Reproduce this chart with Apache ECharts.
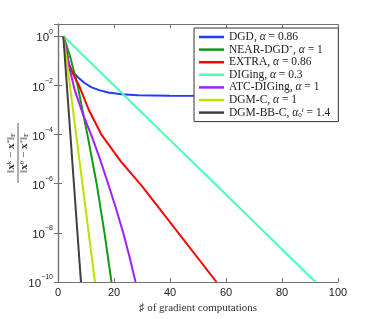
<!DOCTYPE html>
<html><head><meta charset="utf-8">
<script src="https://cdn.jsdelivr.net/npm/echarts@6/dist/echarts.min.js"></script>
<style>html,body{margin:0;padding:0;background:#fff}#c{width:374px;height:319px}</style>
</head><body><div id="c"></div>
<script>
// ---- data (x = # of gradient computations, y = relative error) ----
const xTicks = [0, 20, 40, 60, 80, 100];
const yTickExps = [0, -2, -4, -6, -8, -10];

const names = ['DGD', 'NEAR-DGD+', 'EXTRA', 'DIGing', 'ATC-DIGing', 'DGM-C', 'DGM-BB-C'];

const xDGD = [2, 3, 3.8, 5, 7.2, 9.5, 12, 15, 17.9, 22.7, 28.6, 40, 100];
const yDGD = [1, 0.251, 0.0794, 0.038, 0.0209, 0.01259, 0.00832, 0.00631, 0.00513, 0.00437, 0.00398, 0.0038, 0.00372];

const xNEAR = [2, 4.5, 7, 10.5, 13.8, 16.6, 19.1];
const yNEAR = [1, 0.126, 0.01, 1e-4, 1e-6, 1e-8, 1e-10];

const xEXTRA = [2, 3, 3.8, 5, 7.5, 11, 15.5, 22.5, 30, 56.6];
const yEXTRA = [1, 0.251, 0.0794, 0.0355, 0.01, 1e-3, 1e-4, 7.94e-6, 7.94e-7, 1e-10];

const xDIGing = [2, 92];
const yDIGing = [1, 1e-10];

const xATC = [2, 4, 6, 9, 12, 15, 17.9, 20.7, 23.3, 25.6, 27.7];
const yATC = [1, 0.0562, 6.31e-3, 6.31e-4, 8.91e-5, 1e-5, 1e-6, 1e-7, 1e-8, 1e-9, 1e-10];

const xDGMC = [2, 13.2];
const yDGMC = [1, 1e-10];

const xBB = [1.9, 8.2];
const yBB = [1, 1e-10];

const colors = ['#1f3cff', '#109c10', '#ff0000', '#4dffb4', '#a020ff', '#c2e000', '#404040'];

// ---- build ----
const pairs = (xs, ys) => xs.map((x, i) => [x, ys[i]]);
const allData = [pairs(xDGD, yDGD), pairs(xNEAR, yNEAR), pairs(xEXTRA, yEXTRA), pairs(xDIGing, yDIGing),
                 pairs(xATC, yATC), pairs(xDGMC, yDGMC), pairs(xBB, yBB)];

const legendText = {
  'DGD': '{t|DGD, }{i|α}{t| = 0.86}',
  'NEAR-DGD+': '{t|NEAR-DGD}{sup|+}{t|, }{i|α}{t| = 1}',
  'EXTRA': '{t|EXTRA, }{i|α}{t| = 0.86}',
  'DIGing': '{t|DIGing, }{i|α}{t| = 0.3}',
  'ATC-DIGing': '{t|ATC-DIGing, }{i|α}{t| = 1}',
  'DGM-C': '{t|DGM-C, }{i|α}{t| = 1}',
  'DGM-BB-C': '{t|DGM-BB-C, }{i|α}{sub|0}{supi|i}{t| = 1.4}'
};

const serif = '"Liberation Serif", "DejaVu Serif", serif';
const sans = '"Liberation Sans", Arial, sans-serif';
const axisGray = '#737373';

const chart = echarts.init(document.getElementById('c'), null, {renderer: 'canvas'});

const yLabelFmt = v => {
  const l = Math.log10(v);
  const e = Math.round(l);
  if (Math.abs(l - e) > 1e-6 || !yTickExps.includes(e)) return '';
  return '{b|10}{s|' + (e === 0 ? '0' : '−' + (-e)) + '}';
};

const fracRich = {
  n: {fontFamily: serif, fontSize: 11, fill: '#333', lineHeight: 11},
  b: {fontFamily: serif, fontSize: 11, fontWeight: 'bold', fill: '#333', lineHeight: 11},
  sup: {fontFamily: serif, fontSize: 7, verticalAlign: 'top', lineHeight: 11, fill: '#333'},
  sub: {fontFamily: serif, fontSize: 7, verticalAlign: 'bottom', lineHeight: 11, fill: '#333'}
};

chart.setOption({
  animation: false,
  backgroundColor: '#fff',
  color: colors,
  grid: {left: 58, right: 36, top: 24, bottom: 37, containLabel: false},
  xAxis: [{
    type: 'value', min: 0, max: 100, interval: 20, position: 'bottom',
    axisLine: {show: true, lineStyle: {color: axisGray, width: 1.2}},
    axisTick: {show: true, inside: true, length: 4, lineStyle: {color: axisGray}},
    axisLabel: {fontFamily: sans, fontSize: 11, color: '#222', margin: 5,
      formatter: v => xTicks.includes(v) ? String(v) : ''},
    splitLine: {show: false},
    name: '♯ of gradient computations', nameLocation: 'middle', nameGap: 20,
    nameTextStyle: {fontFamily: serif, fontSize: 11, color: '#333'}
  }, {
    type: 'value', min: 0, max: 100, interval: 20, position: 'top',
    axisLine: {show: true, lineStyle: {color: axisGray, width: 1.2}},
    axisTick: {show: true, inside: true, length: 4, lineStyle: {color: axisGray}},
    axisLabel: {show: false}, splitLine: {show: false}
  }],
  yAxis: [{
    type: 'log', logBase: 10, min: 1e-10, max: Math.pow(10, 0.5), interval: 2, position: 'left',
    axisLine: {show: true, lineStyle: {color: axisGray, width: 1.2}},
    axisTick: {show: true, inside: true, length: 4, lineStyle: {color: axisGray}},
    axisLabel: {formatter: yLabelFmt, margin: 5, showMaxLabel: false,
      rich: {
        b: {fontFamily: sans, fontSize: 11.5, color: '#222', lineHeight: 16, verticalAlign: 'bottom'},
        s: {fontFamily: sans, fontSize: 7, color: '#222', lineHeight: 16, verticalAlign: 'top'}
      }},
    splitLine: {show: false}
  }, {
    type: 'log', logBase: 10, min: 1e-10, max: Math.pow(10, 0.5), interval: 2, position: 'right',
    axisLine: {show: true, lineStyle: {color: axisGray, width: 1.2}},
    axisTick: {show: true, inside: true, length: 4, lineStyle: {color: axisGray}},
    axisLabel: {show: false}, splitLine: {show: false}
  }],
  legend: {
    orient: 'vertical', left: 194, top: 28,
    padding: [3, 8, 3, 5], itemGap: 0.6, itemWidth: 25, itemHeight: 2.5,
    borderColor: '#333', borderWidth: 1, backgroundColor: '#fff',
    icon: 'rect',
    data: names,
    formatter: n => legendText[n],
    textStyle: {
      rich: {
        t: {fontFamily: serif, fontSize: 11.5, color: '#222', lineHeight: 12},
        i: {fontFamily: serif, fontSize: 11.5, fontStyle: 'italic', color: '#222', lineHeight: 12},
        sup: {fontFamily: serif, fontSize: 7, color: '#222', lineHeight: 12, verticalAlign: 'top'},
        supi: {fontFamily: serif, fontSize: 7, fontStyle: 'italic', color: '#222', lineHeight: 12, verticalAlign: 'top'},
        sub: {fontFamily: serif, fontSize: 7, color: '#222', lineHeight: 12, verticalAlign: 'bottom'}
      }
    },
    z: 10
  },
  series: names.map((n, i) => ({
    name: n, type: 'line', data: allData[i], xAxisIndex: 0, yAxisIndex: 0,
    showSymbol: false, symbol: 'none', smooth: false,
    lineStyle: {width: 2, color: colors[i]}, itemStyle: {color: colors[i]}
  })),
  graphic: [{
    type: 'group', x: 18, y: 153, rotation: Math.PI / 2,
    children: [
      {type: 'text', x: 0, y: -1, style: {text: '{n|‖}{b|x}{sup|k}{n| − }{b|x}{sup|*}{n|‖}{sub|F}', rich: fracRich,
        align: 'center', verticalAlign: 'bottom'}},
      {type: 'line', shape: {x1: -30, y1: 0, x2: 30, y2: 0}, style: {stroke: '#333', lineWidth: 0.8}},
      {type: 'text', x: 0, y: 1, style: {text: '{n|‖}{b|x}{sup|0}{n| − }{b|x}{sup|*}{n|‖}{sub|F}', rich: fracRich,
        align: 'center', verticalAlign: 'top'}}
    ]
  }]
});
</script></body></html>
